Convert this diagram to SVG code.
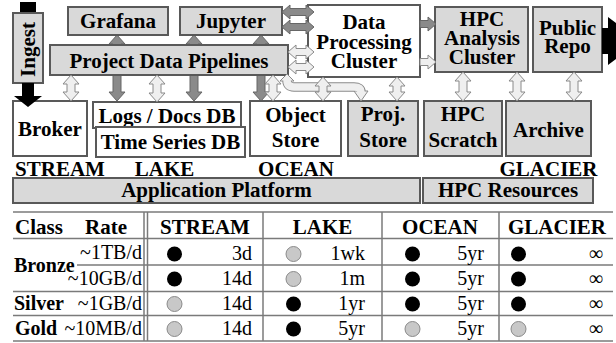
<svg xmlns="http://www.w3.org/2000/svg" width="616" height="343" viewBox="0 0 616 343" font-family="'Liberation Serif', 'DejaVu Serif', serif">
<style>
.box{stroke:#595959;stroke-width:2}
.g{fill:#d9d9d9}
.w{fill:#ffffff}
text{font-family:'Liberation Serif','DejaVu Serif',serif}
.t{font-weight:bold;font-size:21px;text-anchor:middle;fill:#000}
.tl{font-weight:bold;font-size:21px;fill:#000}
.rl{font-weight:bold;font-size:20px;fill:#000}
.tr{font-size:20px;text-anchor:end;fill:#000}
.dk{fill:#8a8a8a;stroke:#666;stroke-width:1}
.lt{fill:#efefef;stroke:#8a8a8a;stroke-width:1}
.rule{stroke:#7a7a7a;stroke-width:1.5}
.dotb{fill:#000}
.dotg{fill:#c8c8c8;stroke:#8a8a8a;stroke-width:1}
</style>

<g id="connectors">
  <rect x="20" y="2" width="16" height="11" fill="#000"/>
  <polygon class="dk" points="117,35 125,44 121,44 121,92 125,92 117,101 109,92 113,92 113,44 109,44"/>
  <polygon class="dk" points="194,35 202,44 198,44 198,92 202,92 194,101 186,92 190,92 190,44 186,44"/>
  <polygon class="dk" points="261,35 269,44 265,44 265,92 269,92 261,101 253,92 257,92 257,44 253,44"/>
</g>

<g id="node-ingest">
  <rect class="box g" x="13" y="13" width="30" height="70"/>
  <text class="t" transform="translate(34.5,49.5) rotate(-90)">Ingest</text>
</g>
<g id="node-grafana">
  <rect class="box g" x="68" y="7" width="100" height="28"/>
  <text class="t" x="118" y="27.5">Grafana</text>
</g>
<g id="node-jupyter">
  <rect class="box g" x="180" y="7" width="102" height="28"/>
  <text class="t" x="231" y="27.5">Jupyter</text>
</g>
<g id="node-pipelines">
  <rect class="box g" x="50" y="45" width="238" height="30"/>
  <text class="t" x="169" y="68">Project Data Pipelines</text>
</g>
<g id="node-dpc">
  <rect class="box w" x="308" y="5" width="112" height="72"/>
  <text class="t" x="364" y="29">Data</text>
  <text class="t" x="364" y="48.5">Processing</text>
  <text class="t" x="364" y="68">Cluster</text>
</g>
<g id="node-hpc-analysis">
  <rect class="box g" x="435" y="7" width="93" height="65"/>
  <text class="t" x="482" y="26">HPC</text>
  <text class="t" x="482" y="45">Analysis</text>
  <text class="t" x="482" y="64">Cluster</text>
</g>
<g id="node-public-repo">
  <rect class="box g" x="533" y="7" width="69" height="65"/>
  <text class="t" x="567.5" y="34.5">Public</text>
  <text class="t" x="567.5" y="53">Repo</text>
</g>
<g id="node-broker">
  <rect class="box w" x="13" y="101" width="74" height="55"/>
  <text class="t" x="50" y="136">Broker</text>
</g>
<g id="node-logs-db">
  <rect class="box w" x="93" y="102" width="148" height="26"/>
  <text class="t" x="167" y="123">Logs / Docs DB</text>
</g>
<g id="node-ts-db">
  <rect class="box w" x="96" y="127" width="149" height="30"/>
  <text class="t" x="170.5" y="149">Time Series DB</text>
</g>
<g id="node-object-store">
  <rect class="box w" x="250" y="101" width="91" height="55"/>
  <text class="t" x="295.5" y="122">Object</text>
  <text class="t" x="295.5" y="147">Store</text>
</g>
<g id="node-proj-store">
  <rect class="box g" x="348" y="101" width="70" height="55"/>
  <text class="t" x="383" y="121">Proj.</text>
  <text class="t" x="383" y="147">Store</text>
</g>
<g id="node-hpc-scratch">
  <rect class="box g" x="424" y="101" width="78" height="55"/>
  <text class="t" x="463" y="121">HPC</text>
  <text class="t" x="463" y="147">Scratch</text>
</g>
<g id="node-archive">
  <rect class="box g" x="506" y="101" width="85" height="55"/>
  <text class="t" x="548.5" y="137">Archive</text>
</g>
<g id="tier-labels">
  <text class="t" x="60" y="176">STREAM</text>
  <text class="t" x="164.5" y="176">LAKE</text>
  <text class="t" x="296" y="176">OCEAN</text>
  <text class="t" x="548.5" y="176">GLACIER</text>
</g>
<g id="node-app-platform">
  <rect class="box g" x="13" y="178" width="407" height="25"/>
  <text class="t" x="216.5" y="197">Application Platform</text>
</g>
<g id="node-hpc-resources">
  <rect class="box g" x="423" y="178" width="170" height="25"/>
  <text class="t" x="508" y="197">HPC Resources</text>
</g>

<g id="connectors-front">
  <polygon fill="#000" points="22,83 34,83 34,96 42,96 28,107 14,96 22,96"/>
  <polygon fill="#000" points="602,28 608,28 608,17 640,41 608,65 608,54 602,54"/>
  <polygon class="dk" points="282,12 290,5 290,8.5 306,8.5 306,5 314,12 306,19 306,15.5 290,15.5 290,19"/>
  <polygon class="dk" points="282,27 290,20 290,23.5 306,23.5 306,20 314,27 306,34 306,30.5 290,30.5 290,34"/>
  <polygon class="lt" points="288,52 296,45 296,48.5 306,48.5 306,45 314,52 306,59 306,55.5 296,55.5 296,59"/>
  <polygon class="lt" points="288,67 296,60 296,63.5 306,63.5 306,60 314,67 306,74 306,70.5 296,70.5 296,74"/>
  <polygon class="dk" points="420,20.5 428,20.5 428,17 436,24 428,31 428,27.5 420,27.5"/>
  <polygon class="lt" points="420,58.5 428,58.5 428,55 436,62 428,69 428,65.5 420,65.5"/>
  <path d="M287 80 Q287 87 294 87 H354 Q361 87 361 92" fill="none" stroke="#8a8a8a" stroke-width="9.5"/>
  <polygon class="lt" points="287,74 294,81 280,81"/>
  <polygon class="lt" points="354,91 368,91 361,101"/>
  <path d="M287 80 Q287 87 294 87 H354 Q361 87 361 92" fill="none" stroke="#efefef" stroke-width="7.5"/>
  <polygon class="lt" points="71,75 79,84 75,84 75,92 79,92 71,101 63,92 67,92 67,84 63,84"/>
  <polygon class="lt" points="157,75 165,84 161,84 161,93 165,93 157,102 149,93 153,93 153,84 149,84"/>
  <polygon class="lt" points="273,75 281,84 277,84 277,92 281,92 273,101 265,92 269,92 269,84 265,84"/>
  <polygon class="lt" points="323,77 331,86 327,86 327,92 331,92 323,101 315,92 319,92 319,86 315,86"/>
  <polygon class="lt" points="397,77 405,86 401,86 401,92 405,92 397,101 389,92 393,92 393,86 389,86"/>
  <polygon class="lt" points="463,72 471,81 467,81 467,92 471,92 463,101 455,92 459,92 459,81 455,81"/>
  <polygon class="lt" points="517,72 525,81 521,81 521,92 525,92 517,101 509,92 513,92 513,81 509,81"/>
  <polygon class="lt" points="574,72 582,81 578,81 578,92 582,92 574,101 566,92 570,92 570,81 566,81"/>
</g>

<g id="table">
  <line class="rule" x1="13" y1="212" x2="613" y2="212"/>
  <line class="rule" x1="13" y1="238.5" x2="613" y2="238.5" stroke-width="2"/>
  <line class="rule" x1="77" y1="265" x2="613" y2="265"/>
  <line class="rule" x1="13" y1="291.5" x2="613" y2="291.5"/>
  <line class="rule" x1="13" y1="315.5" x2="613" y2="315.5"/>
  <line class="rule" x1="13" y1="341" x2="613" y2="341"/>
  <line class="rule" x1="144" y1="212" x2="144" y2="341"/>
  <line class="rule" x1="147.5" y1="212" x2="147.5" y2="341"/>
  <line class="rule" x1="263" y1="212" x2="263" y2="341"/>
  <line class="rule" x1="382" y1="212" x2="382" y2="341"/>
  <line class="rule" x1="499" y1="212" x2="499" y2="341"/>

  <text class="tl" x="15" y="234">Class</text>
  <text class="tl" x="85" y="234">Rate</text>
  <text class="t" x="205" y="234">STREAM</text>
  <text class="t" x="322.5" y="234">LAKE</text>
  <text class="t" x="440" y="234">OCEAN</text>
  <text class="t" x="557" y="234">GLACIER</text>

  <text class="rl" x="14" y="272">Bronze</text>
  <text class="rl" x="14" y="310">Silver</text>
  <text class="rl" x="15" y="335">Gold</text>
  <text class="tr" x="142" y="259">~1TB/d</text>
  <text class="tr" x="142" y="285">~10GB/d</text>
  <text class="tr" x="142" y="310">~1GB/d</text>
  <text class="tr" x="142" y="335">~10MB/d</text>

  <circle class="dotb" cx="174.5" cy="254" r="7.5"/>
  <circle class="dotb" cx="174.5" cy="279" r="7.5"/>
  <circle class="dotg" cx="174.5" cy="304" r="7.5"/>
  <circle class="dotg" cx="174.5" cy="329" r="7.5"/>
  <text class="tr" x="252" y="260">3d</text>
  <text class="tr" x="252" y="285">14d</text>
  <text class="tr" x="252" y="310">14d</text>
  <text class="tr" x="252" y="335">14d</text>

  <circle class="dotg" cx="293.5" cy="254" r="7.5"/>
  <circle class="dotg" cx="293.5" cy="279" r="7.5"/>
  <circle class="dotb" cx="293.5" cy="304" r="7.5"/>
  <circle class="dotb" cx="293.5" cy="329" r="7.5"/>
  <text class="tr" x="365" y="260">1wk</text>
  <text class="tr" x="365" y="285">1m</text>
  <text class="tr" x="365" y="310">1yr</text>
  <text class="tr" x="365" y="335">5yr</text>

  <circle class="dotb" cx="412.5" cy="254" r="7.5"/>
  <circle class="dotb" cx="412.5" cy="279" r="7.5"/>
  <circle class="dotb" cx="412.5" cy="304" r="7.5"/>
  <circle class="dotg" cx="412.5" cy="329" r="7.5"/>
  <text class="tr" x="484" y="260">5yr</text>
  <text class="tr" x="484" y="285">5yr</text>
  <text class="tr" x="484" y="310">5yr</text>
  <text class="tr" x="484" y="335">5yr</text>

  <circle class="dotb" cx="518.5" cy="254" r="7.5"/>
  <circle class="dotb" cx="518.5" cy="279" r="7.5"/>
  <circle class="dotb" cx="518.5" cy="304" r="7.5"/>
  <circle class="dotg" cx="518.5" cy="329" r="7.5"/>
  <text class="tr" x="603" y="260">∞</text>
  <text class="tr" x="603" y="285">∞</text>
  <text class="tr" x="603" y="310">∞</text>
  <text class="tr" x="603" y="335">∞</text>
</g>
</svg>
